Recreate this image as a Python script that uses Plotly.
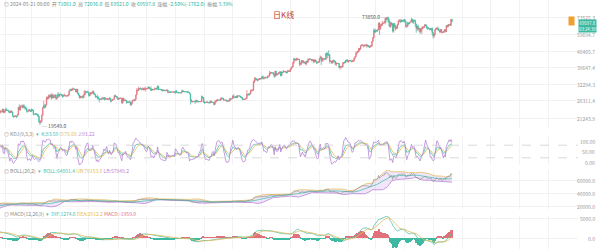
import numpy as np
import pandas as pd
import plotly.graph_objects as go

START = "2023-01-01"
PREV_CLOSE = 16540.0

CLOSE = [
16610,16680,16670,16850,16830,16950,16940,17120,17180,17440,17940,18850,19930,20950,20870,21170,21160,20690,21080,22670,22780,22710,22920,22630,23060,23010,23080,22950,23740,22830,23130,
23730,23490,23430,23330,22930,22760,23260,22960,21800,21630,21860,21780,21780,22200,24330,23520,24570,24630,24280,24840,24450,24190,23950,23190,23160,23550,23490,23140,
23630,23470,22350,22350,22430,22410,22200,21700,20360,20190,20630,22150,24200,24750,24380,25060,27420,26960,28040,27770,28180,27300,28330,27480,27480,28350,27140,27260,28350,28030,28480,
28460,28200,27800,28170,28170,27930,27950,27930,28340,29650,30230,29890,30400,30490,30320,30320,29440,30390,28820,28250,27270,27820,27590,27520,28310,28420,29480,29340,29250,29230,
28090,28680,29030,28850,29530,28900,28450,27690,27660,27620,26990,26800,26780,26930,27170,27030,27400,26830,26890,27100,26750,26850,27220,26330,26470,26720,26870,28080,27750,27700,27220,
26820,27250,27070,27120,25730,27230,26340,26500,26480,25850,25940,25900,25920,25120,25580,26340,26510,26340,26840,28310,30000,29890,30690,30550,30470,30270,30690,30080,30450,30470,
30590,30620,31160,30770,30510,29900,30340,30290,30170,30410,30620,30390,31470,30320,30290,30230,30140,29860,29910,29800,29910,29800,30080,29170,29230,29350,29210,29310,29350,29270,29230,
29700,29180,29180,29070,29050,29040,29180,29770,29570,29430,29400,29420,29280,29410,29170,28700,26620,26050,26100,26190,26120,26040,26430,26160,26050,26010,26090,26100,27720,27300,25930,
25800,25870,25970,25820,25790,25750,26240,25900,25900,25840,25160,25840,26230,26530,26600,26570,26530,26760,27210,27130,26570,26580,26580,26250,26300,26220,26350,27020,26910,26970,
27990,27500,27430,27790,27410,27930,27960,27930,27590,27390,26870,26760,26860,26860,27160,28520,28420,28330,28720,29680,29920,29990,33070,33930,34500,34160,33910,34090,34540,34500,34640,
35420,34940,34730,35080,35050,35040,35420,35620,36690,37310,37130,37070,36490,35540,37880,36160,36590,36590,37390,37460,35760,37420,37290,37720,37800,37450,37240,37820,37850,37710,
38690,39470,39970,41980,44080,43770,43290,44170,43730,43790,41240,41450,42890,43020,41930,42240,41360,42660,42250,43650,43860,43990,43720,43010,43580,42510,43440,42580,42070,42140,42280,
44180,44950,42850,44150,44160,43970,43930,46970,46120,46660,46340,42780,42840,41730,42500,43140,42740,41260,41620,41670,41550,39510,39880,40080,39930,41820,42120,42030,43300,42940,42580,
43080,43190,43000,42580,42700,43090,44340,45290,47130,47770,48290,49960,49700,51800,51910,52130,51640,52120,51780,52260,51850,51300,50730,51570,51730,54480,57040,62430,61130,
62390,61990,63110,68250,63720,66070,66820,68120,68310,68950,72090,71460,73070,71390,69400,65310,68390,67550,61910,67910,65490,63780,64040,67210,69880,69990,69450,70740,69890,69650,71330,
69700,65460,65960,68500,67840,68900,69360,71620,69140,70590,70060,67190,63820,65740,63420,63790,61280,63470,63820,64940,64940,66840,66410,64280,64500,63770,63460,63120,63840,60640,
58250,59120,62890,63890,64010,63160,62330,61190,63070,60790,60820,61480,62940,61580,66270,65230,67050,66940,66270,71450,69597.8]

HIGH = [
16630,16760,16780,16990,16880,16990,16970,17180,17400,17490,18000,19100,19980,21260,21000,21440,21650,21650,21190,22750,23370,23080,23170,23160,23800,23290,23490,23170,23960,23800,23310,
23810,24250,23590,23590,23420,23160,23360,23450,22990,21940,21910,22090,21890,22320,24380,25250,24980,24860,25200,25120,25250,24480,24600,24130,23220,23690,23880,23600,
23970,23780,23480,22420,22630,22600,22540,22270,21820,20370,20790,22180,24500,26390,25250,25200,27760,27720,28390,28470,28530,28870,28810,28370,27790,28460,28030,27500,29180,29170,28650,
28800,28530,28480,28440,28770,28190,28100,28180,28530,29770,30550,30480,30620,31000,30600,30550,30320,30490,30410,29080,28370,27880,27830,28000,28400,30020,29890,29600,29450,29960,
29340,28880,29260,29380,29850,29830,29080,28650,27830,28330,27630,27000,27040,27190,27670,27290,27470,27480,27150,27150,27260,27040,27500,27230,26650,26930,26960,28200,28450,28050,27840,
27350,27300,27330,27460,27120,27350,27140,26800,26790,26560,26200,26100,26430,26090,25750,26480,26780,26680,26980,28400,30780,30500,31400,30810,31060,30650,31000,30690,31000,31280,
30660,30790,31380,31330,30880,31500,30450,30380,30430,31050,30800,30980,31810,31640,30400,30450,30340,30240,30190,30420,30060,29990,30340,30100,29370,29690,29580,29530,29410,29450,29530,
29740,30050,29410,29310,29110,29160,29250,30180,30120,29690,29540,29480,29460,29670,29470,29250,28770,26830,26290,26260,26260,26130,26800,26550,26300,26110,26180,26230,28140,27750,27580,
26130,25970,26130,26090,25850,25930,26440,26420,25940,25950,25880,26550,26390,26840,26880,26680,26630,27430,27490,27380,27160,26740,26640,26720,26430,26390,26820,27310,27230,27080,
28060,28580,27680,27830,28130,28290,28000,28110,27990,27730,27480,26940,27110,26980,27290,30000,28610,28990,28920,30230,30330,30200,33580,35200,35130,34840,34480,34480,34770,34850,34720,
35580,35980,34950,35260,35380,35280,35900,35880,37970,37530,37420,37230,37420,36750,37980,37920,36850,36840,37500,37750,37880,37860,37650,38420,37890,37830,37580,38400,38450,38150,
38950,39690,40200,42420,44490,44300,44040,44700,44370,44040,43800,42100,43430,43420,43090,42700,42440,42770,43480,44290,44240,44390,43950,43950,43800,43570,43680,43800,43110,42600,42900,
44180,45880,45500,44770,44340,44200,44500,47250,47890,47700,48970,46500,43260,43080,43400,43580,43190,42930,42200,41870,41880,41690,40130,40550,40280,42230,42200,42840,43300,43880,43750,
43290,43500,43380,43120,43540,43420,44520,45600,48200,48170,48590,50370,50370,52000,52820,52570,52190,52380,52480,52990,52380,52040,51690,51950,51950,54910,57550,63900,63680,
62990,62420,63230,68500,69000,67630,67980,69990,68680,70000,72800,72920,73650,73850,72350,70030,68920,68940,68130,68100,68240,66650,65950,67600,71150,71560,71770,71550,70900,70350,71370,
71330,69700,66920,69290,68720,69000,70330,72800,71760,71170,71280,71230,67940,65820,66870,64360,64470,64130,65450,65390,65700,67200,67230,67080,65280,64800,63910,64370,64230,64740,
60800,59600,63320,64500,64640,65500,64390,62990,63430,63470,61440,61820,63450,63120,66450,66700,67460,67420,67700,71500,72036]

LOW = [
16500,16550,16600,16650,16750,16670,16910,16910,17100,17140,17320,17910,18720,19900,20550,20600,20850,20400,20660,20870,22420,22300,22510,22460,22300,22850,22530,22880,22980,22550,22740,
22760,23370,23200,23250,22750,22640,22740,22680,21690,21460,21600,21630,21350,21530,22050,23510,23330,24440,24200,23880,24150,23580,23650,22750,22860,23080,23110,23020,
23020,23200,21970,22170,22200,22320,21930,21580,20050,19549,19990,20300,21900,24070,23920,24130,24900,26750,26890,27200,27330,26640,27150,27030,27160,27370,26630,26650,27250,27700,27550,
28250,27880,27280,27680,27830,27720,27780,27880,27810,28170,29610,29670,29850,29900,30250,30120,29270,29110,28590,28010,27130,27140,27340,27020,27210,27250,28380,28890,29050,29090,
27680,27870,28110,28670,28850,28390,28390,27300,27360,26770,26740,25810,26690,26600,26750,26860,26580,26400,26650,26850,26680,26550,26820,25870,25870,26320,26650,26840,27550,27570,26840,
26610,26770,26960,26970,25390,25350,26130,26280,26330,25400,25630,25720,25730,24820,24760,25180,26250,26290,26250,26660,28270,29540,29810,30250,30270,29940,30220,29910,30040,29500,
30330,30220,30560,30630,30200,29830,29700,30050,30060,29950,30280,30200,30250,29940,30250,30060,29670,29500,29760,29570,29720,29640,29740,28860,29060,29100,29120,29130,29260,29030,29100,
28580,28950,28960,28750,28960,28960,28700,29120,29370,29320,29340,29370,29250,29100,29060,28700,25160,25800,25800,26000,25810,25350,25800,25860,25780,25970,25980,25880,25910,27070,25660,
25330,25720,25800,25600,25560,25350,25600,25650,25800,25560,24900,25130,25770,26130,26230,26480,26380,26380,26680,26830,26350,26480,26520,26130,25990,26090,26110,26340,26670,26890,
26960,27320,27160,27230,27350,27180,27840,27830,27300,27290,26540,26560,26690,26800,26830,27110,28100,28130,28170,28600,29480,29680,29880,32830,33700,33800,33410,33820,34050,34050,34080,
34320,34350,34120,34590,34540,34750,34540,35110,35540,36340,36700,36760,36330,34800,35360,35510,35870,36200,36380,36720,35630,35680,36880,37250,37600,37160,36750,36880,37600,37500,
37620,38650,39280,39980,41420,43330,42820,43080,43580,43570,40220,40680,40900,41810,41660,41730,41250,40530,41820,42180,43330,43400,43620,42750,42730,41650,42100,42290,41300,41520,41970,
42180,44150,40750,42630,42510,43400,43560,43200,44300,44350,45600,41500,42440,41720,41720,42050,42190,40680,40280,41400,41500,39430,38550,39480,39260,39820,41400,41620,41800,42690,42300,
41880,42580,42880,42230,42260,42580,42780,44330,45240,46800,47560,47710,48300,49280,51350,51600,50630,51230,51520,50550,50800,50950,50450,50600,51280,50900,54450,56700,60360,
60800,61600,61320,62850,59000,62800,65620,66000,67900,68200,67190,68850,71340,68560,65630,64780,64560,66600,60780,60770,64530,62260,63400,63800,66400,69280,68380,68900,69060,69330,69620,
68250,64500,64490,65090,66500,67440,68830,69060,68200,67520,69570,65090,60660,62180,62300,61600,59770,60820,59600,63090,64250,64500,65750,63820,62790,63300,62410,62810,61800,59100,
56550,56940,58850,62590,62870,62700,62000,60630,60650,60190,60430,60620,60760,60900,61330,64600,65130,66620,65860,66060,69150]

MAIN_TICKS = [73525.3, 59694.7, 48465.7, 39647.4, 32294.3, 26311.4, 21243.9]
KDJ_TICKS = [100.0, 50.0, 0.0]
BOLL_TICKS = [80000.0, 60000.0, 40000.0, 20000.0]
MACD_TICKS = [5000.0, 0.0]

HEADER = ("2024-05-21 08:00  开 <span style='color:#2bb39a'>71081.0</span>  高 <span style='color:#2bb39a'>72036.0</span>"
          "  低 <span style='color:#2bb39a'>69521.0</span>  收 <span style='color:#2bb39a'>69597.8</span>"
          "  涨幅 <span style='color:#2bb39a'>-2.50%(-1762.0)</span>  振幅 <span style='color:#2bb39a'>3.39%</span>")
TITLE = "日K线"
KDJ_LEG = ["KDJ(9,3,3)", "K:83.50", "D:78.68", "J:93.22"]
BOLL_LEG = ["BOLL(20,2)", "BOLL:64801.4", "UB:70153.6", "LB:57949.2"]
MACD_LEG = ["MACD(12,26,9)", "DIF:1274.6", "DEA:2912.2", "MACD:-1959.0"]
LAST_TIME = "03:24:39"

# ---------------- data prep ----------------
dates = pd.date_range(START, periods=len(CLOSE), freq="D")
c = np.array(CLOSE, float)
h = np.array(HIGH, float)
l = np.array(LOW, float)
o = np.concatenate([[PREV_CLOSE], c[:-1]])
o[-1] = 71081.0
h = np.maximum(h, np.maximum(o, c))
l = np.minimum(l, np.minimum(o, c))
s_c, s_h, s_l = pd.Series(c), pd.Series(h), pd.Series(l)

# KDJ
llv = s_l.rolling(9, min_periods=1).min()
hhv = s_h.rolling(9, min_periods=1).max()
rsv = ((s_c - llv) / (hhv - llv) * 100).fillna(50).values
K = np.zeros(len(c)); D = np.zeros(len(c))
kp, dp = 50.0, 50.0
for i in range(len(c)):
    kp = 2 / 3 * kp + rsv[i] / 3
    dp = 2 / 3 * dp + kp / 3
    K[i], D[i] = kp, dp
J = 3 * K - 2 * D

# BOLL
mid = s_c.rolling(20, min_periods=1).mean()
sd = s_c.rolling(20, min_periods=1).std(ddof=0)
ub, lb = mid + 2 * sd, mid - 2 * sd

# MACD
ema12 = s_c.ewm(span=12, adjust=False).mean()
ema26 = s_c.ewm(span=26, adjust=False).mean()
dif = ema12 - ema26
dea = dif.ewm(span=9, adjust=False).mean()
hist = 2 * (dif - dea)

UP, DOWN = "#e0707a", "#3cb9a0"
KC, DC, JC = "#4cc0ae", "#e6bd5a", "#b884d8"
FONT = "Noto Sans CJK SC, Noto Sans, sans-serif"
W, H = 600, 249
XR = ["2023-01-26 12:00", "2024-10-02"]


def dom(top, bot):
    return [1 - bot / H, 1 - top / H]


fig = go.Figure()
fig.add_trace(go.Candlestick(x=dates, open=o, high=h, low=l, close=c,
                             increasing=dict(line=dict(color=UP, width=0.7), fillcolor=UP),
                             decreasing=dict(line=dict(color=DOWN, width=0.7), fillcolor=DOWN),
                             whiskerwidth=0, xaxis="x", yaxis="y", showlegend=False, hoverinfo="skip"))
# KDJ
for arr, col in [(K, KC), (D, DC), (J, JC)]:
    fig.add_trace(go.Scatter(x=dates, y=arr, mode="lines", line=dict(color=col, width=0.8),
                             xaxis="x2", yaxis="y2", showlegend=False, hoverinfo="skip"))
# BOLL
fig.add_trace(go.Scatter(x=dates, y=lb, mode="lines", line=dict(color=JC, width=0.8),
                         xaxis="x3", yaxis="y3", showlegend=False, hoverinfo="skip"))
fig.add_trace(go.Scatter(x=dates, y=ub, mode="lines", line=dict(color=DC, width=0.8),
                         fill="tonexty", fillcolor="rgba(190,140,230,0.22)",
                         xaxis="x3", yaxis="y3", showlegend=False, hoverinfo="skip"))
fig.add_trace(go.Scatter(x=dates, y=mid, mode="lines", line=dict(color=KC, width=0.8),
                         xaxis="x3", yaxis="y3", showlegend=False, hoverinfo="skip"))
fig.add_trace(go.Scatter(x=dates, y=c, mode="lines", line=dict(color="#888888", width=0.6),
                         xaxis="x3", yaxis="y3", showlegend=False, hoverinfo="skip"))
# MACD
fig.add_trace(go.Bar(x=dates, y=hist, marker=dict(color=[UP if v >= 0 else DOWN for v in hist], line=dict(width=0)),
                     width=86400000, xaxis="x4", yaxis="y4", showlegend=False, hoverinfo="skip"))
fig.add_trace(go.Scatter(x=dates, y=dif, mode="lines", line=dict(color=KC, width=0.8),
                         xaxis="x4", yaxis="y4", showlegend=False, hoverinfo="skip"))
fig.add_trace(go.Scatter(x=dates, y=dea, mode="lines", line=dict(color=DC, width=0.8),
                         xaxis="x4", yaxis="y4", showlegend=False, hoverinfo="skip"))

XD = [0, 578 / W]
grid = "#f2f2f2"
xcommon = dict(range=XR, domain=XD, showticklabels=False, showgrid=True, gridcolor=grid,
               dtick="M1", tick0="2023-01-01", zeroline=False, showline=False, ticks="")
ycommon = dict(showticklabels=False, showgrid=True, gridcolor=grid, zeroline=False, showline=False, ticks="")

main_lo, main_hi = 18870.0, 90564.0
fig.update_layout(
    width=W, height=H, margin=dict(l=0, r=0, t=0, b=0),
    paper_bgcolor="white", plot_bgcolor="white",
    font=dict(family=FONT, size=6, color="#999999"),
    xaxis=dict(**xcommon, anchor="y", rangeslider=dict(visible=False)),
    xaxis2=dict(**xcommon, anchor="y2", matches="x"),
    xaxis3=dict(**xcommon, anchor="y3", matches="x"),
    xaxis4=dict(**xcommon, anchor="y4", matches="x"),
    yaxis=dict(**ycommon, type="log", range=[np.log10(main_lo), np.log10(main_hi)], domain=dom(0, 128),
               tickvals=MAIN_TICKS),
    yaxis2=dict(**ycommon, range=[-14.3, 123.8], domain=dom(136, 165), tickvals=[]),
    yaxis3=dict(**ycommon, range=[15263, 76842], domain=dom(170, 209), tickvals=BOLL_TICKS),
    yaxis4=dict(**ycommon, range=[-2750, 5500], domain=dom(216, 249), tickvals=MACD_TICKS),
    bargap=0,
)

# KDJ dashed reference lines
for v in (80, 20):
    fig.add_shape(type="line", xref="x2 domain", yref="y2", x0=0, x1=1, y0=v, y1=v,
                  line=dict(color="#cfcfcf", width=0.8, dash="dash"))

ann = []
def lab(y, text, yref, color="#999999", size=5):
    ann.append(dict(x=597 / W, xref="paper", y=y, yref=yref, text=text, showarrow=False,
                    xanchor="right", yanchor="middle", font=dict(size=size, color=color)))

last = c[-1]
for v in MAIN_TICKS:
    lab(np.log10(v), f"{v:.1f}", "y")
for v in KDJ_TICKS:
    lab(v, f"{v:.2f}", "y2")
for v in BOLL_TICKS:
    lab(v, f"{v:.1f}", "y3")
for v in MACD_TICKS:
    lab(v, f"{v:.1f}", "y4")

# last price box, tucked between the two top price ticks
ann.append(dict(x=597 / W, xref="paper", y=np.log10(last), yref="y",
                text=f"{last:.1f}<br>{LAST_TIME}",
                showarrow=False, xanchor="right", yanchor="middle", yshift=-4.5, bgcolor=DOWN,
                font=dict(size=4.3, color="white"), borderpad=0, align="center"))
ann.append(dict(x=575 / W, xref="paper", y=np.log10(last), yref="y", text="", showarrow=False,
                bgcolor="#f0a030", width=3, height=6))

# peak / trough labels
imax = int(np.argmax(h)); imin = int(np.argmin(l[25:])) + 25
ann.append(dict(x=dates[imax], xref="x", y=np.log10(h[imax]), yref="y", text=f"{h[imax]:.1f} ─",
                showarrow=False, xanchor="right", yanchor="middle", font=dict(size=5, color="#555555")))
ann.append(dict(x=dates[imin], xref="x", y=np.log10(l[imin]), yref="y", text=f"─ {l[imin]:.1f}",
                showarrow=False, xanchor="left", yanchor="middle", font=dict(size=5, color="#555555")))

# header and title
ann.append(dict(x=2 / W, xref="paper", y=1 - 4 / H, yref="paper", text="◎ " + HEADER, showarrow=False,
                xanchor="left", yanchor="middle", font=dict(size=5, color="#888888")))
ann.append(dict(x=283 / W, xref="paper", y=1 - 14 / H, yref="paper", text=TITLE, showarrow=False,
                xanchor="center", yanchor="middle", font=dict(size=8, color="#c0392b")))

def legend(ypx, items, third):
    t = (f"◎ {items[0]}  <span style='color:{KC}'>▾</span>  <span style='color:{KC}'>{items[1]}</span> "
         f"<span style='color:{DC}'>{items[2]}</span> <span style='color:{third}'>{items[3]}</span>")
    ann.append(dict(x=2 / W, xref="paper", y=1 - ypx / H, yref="paper", text=t, showarrow=False,
                    xanchor="left", yanchor="middle", font=dict(size=5, color="#888888")))

legend(133, KDJ_LEG, JC)
legend(170, BOLL_LEG, JC)
legend(213, MACD_LEG, UP)

fig.update_layout(annotations=ann)
fig.write_html("out.html")
